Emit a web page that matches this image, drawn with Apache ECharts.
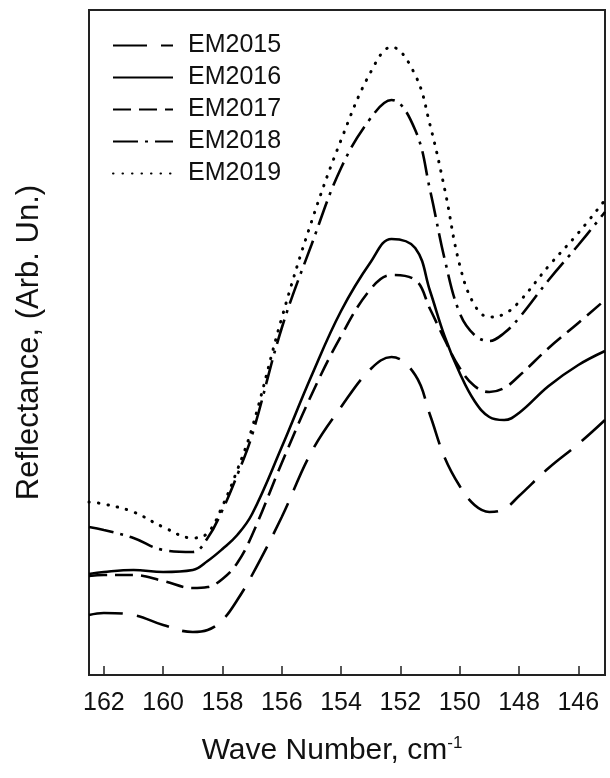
<!DOCTYPE html>
<html>
<head>
<meta charset="utf-8">
<script src="https://cdn.jsdelivr.net/npm/echarts@6/dist/echarts.min.js"></script>
<style>
html,body{margin:0;padding:0;background:#fff;}
#chart{width:610px;height:778px;}
</style>
</head>
<body>
<div id="chart"></div>
<script>
// Wave numbers (cm^-1)
const waveNumbers = [162.5, 162, 161, 160, 159, 158.5, 158, 157.5, 157, 156, 155, 154, 153, 152.3, 151.5, 151, 150.5, 150, 149.5, 149, 148.5, 148, 147, 146, 145.1];
// Reflectance (arbitrary units)
const em2015 = [60, 62, 60, 50, 43, 45, 55, 75, 100, 158, 223, 268, 306, 318, 300, 260, 217, 189, 170, 163, 166, 179, 207, 231, 255];
const em2016 = [101, 103, 105, 103, 105, 114, 126, 140, 161, 228, 299, 364, 413, 436, 427, 384, 338, 302, 274, 258, 255, 262, 289, 310, 324];
const em2017 = [99, 100, 100, 94, 87, 88, 96, 112, 140, 212, 280, 339, 386, 400, 395, 366, 335, 307, 289, 283, 287, 299, 327, 352, 375];
const em2018 = [148, 145, 137, 125, 123, 137, 165, 200, 240, 347, 430, 507, 557, 575, 545, 485, 415, 362, 340, 334, 342, 357, 395, 430, 463];
const em2019 = [173, 171, 163, 148, 137, 142, 169, 205, 247, 357, 453, 535, 603, 628, 600, 550, 485, 410, 370, 358, 361, 373, 409, 442, 475];
const tickValues = [162, 160, 158, 156, 154, 152, 150, 148, 146];
const seriesNames = ['EM2015', 'EM2016', 'EM2017', 'EM2018', 'EM2019'];

const FONT = 'Liberation Sans, Arial, sans-serif';
function pairs(ys){ return waveNumbers.map((w,i)=>[w, ys[i]]); }

const styles = [
  {type:[34,14], width:2.6, cap:'butt'},
  {type:'solid', width:2.6, cap:'butt'},
  {type:[18,8], width:2.6, cap:'butt'},
  {type:[25,7,3,7], width:2.6, cap:'butt'},
  {type:[0.5,9], width:3, cap:'round'}
];
const dataSets = [em2015, em2016, em2017, em2018, em2019];

const chart = echarts.init(document.getElementById('chart'), null, {renderer:'canvas'});
chart.setOption({
  animation:false,
  backgroundColor:'#fff',
  grid:{left:89, right:5, top:10, bottom:103, show:true, borderColor:'#222', borderWidth:2, containLabel:false},
  legend:{
    orient:'vertical', left:112, top:33, padding:0, itemWidth:60, itemHeight:24, itemGap:7,
    data:seriesNames,
    itemStyle:{opacity:0},
    textStyle:{fontFamily:FONT, fontSize:25, color:'#111', padding:[0,0,0,10]}
  },
  xAxis:{
    type:'value', inverse:true, min:145.1, max:162.5,
    axisLine:{show:true, lineStyle:{color:'#222', width:2}},
    axisTick:{show:true, inside:true, length:9, lineStyle:{color:'#222', width:1.5}, customValues:tickValues},
    axisLabel:{fontFamily:FONT, fontSize:25, color:'#111', margin:16, customValues:tickValues},
    splitLine:{show:false},
    name:'Wave Number, cm{sup|-1}',
    nameLocation:'middle', nameGap:60,
    nameTextStyle:{fontFamily:FONT, fontSize:30, color:'#111', padding:[0,30,0,0],
      rich:{sup:{fontFamily:FONT, fontSize:17, color:'#111', verticalAlign:'top', padding:[0,0,14,0]}}}
  },
  yAxis:{
    type:'value', min:0, max:665,
    axisLine:{show:true, lineStyle:{color:'#222', width:2}},
    axisTick:{show:false}, axisLabel:{show:false}, splitLine:{show:false},
    name:'Reflectance, (Arb. Un.)', nameLocation:'middle', nameGap:44, nameRotate:90,
    nameTextStyle:{fontFamily:FONT, fontSize:31, color:'#111'}
  },
  series: seriesNames.map((n,i)=>({
    name:n, type:'line', data:pairs(dataSets[i]), smooth:0.4, symbol:'none',
    lineStyle:{color:'#000', width:styles[i].width, type:styles[i].type, cap:styles[i].cap},
    itemStyle:{color:'#000'}
  }))
});
</script>
</body>
</html>
